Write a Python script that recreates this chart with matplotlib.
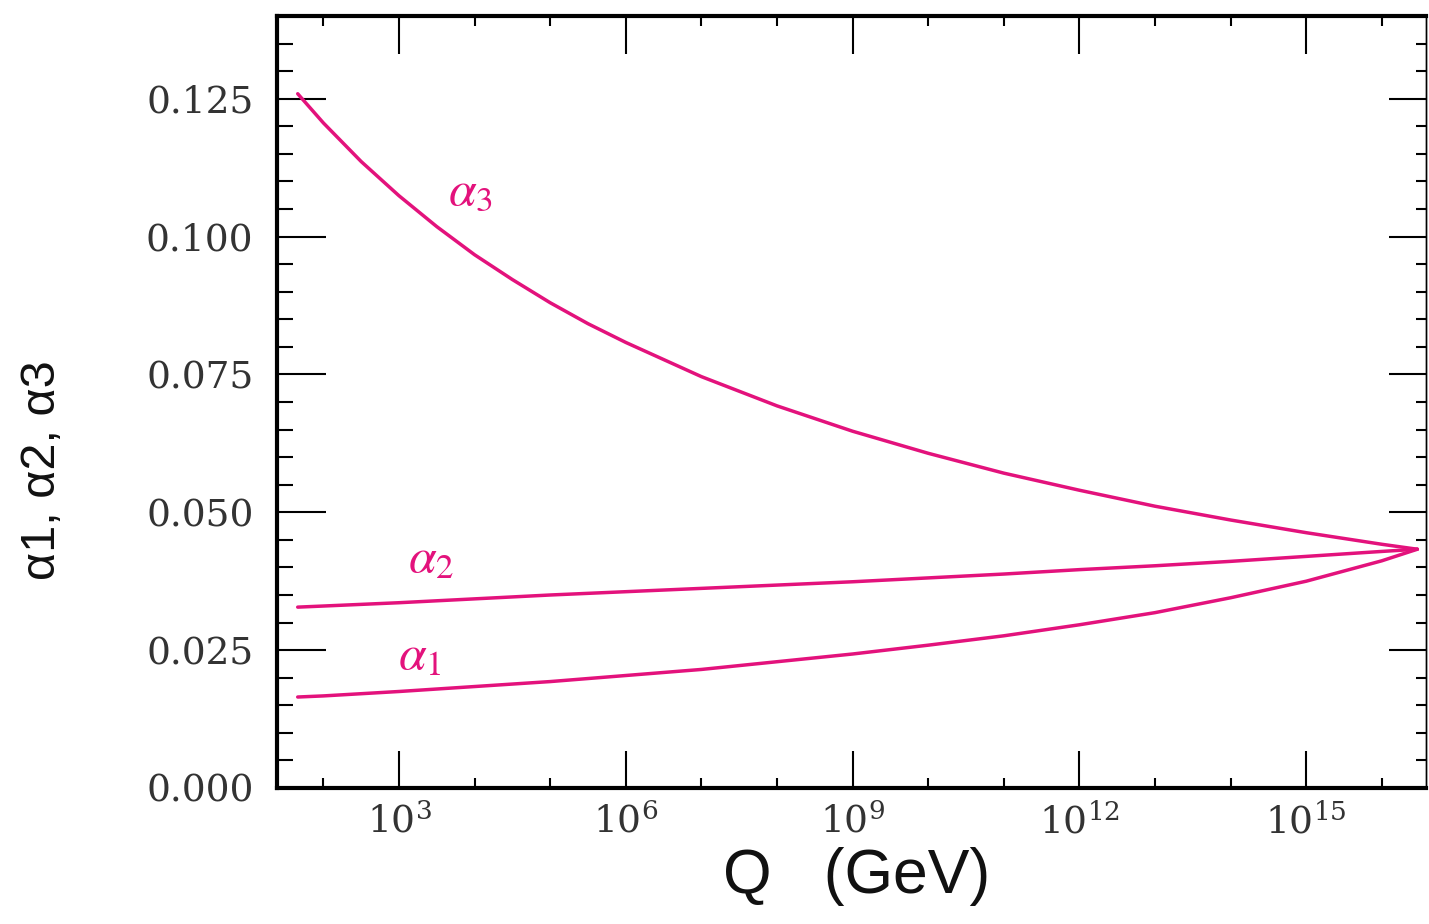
import matplotlib
matplotlib.use("Agg")
import matplotlib.pyplot as plt
from matplotlib.ticker import FixedLocator, FuncFormatter, MultipleLocator
import numpy as np

plt.rcParams["mathtext.fontset"] = "dejavuserif"

# ---- data ----
log10_q = [1.66, 2, 3, 4, 5, 6, 7, 8, 9, 10, 11, 12, 13, 14, 15, 16, 16.47]
alpha1 = [0.0165, 0.0167, 0.0175, 0.0184, 0.0193, 0.0204, 0.0215, 0.0229, 0.0243,
          0.0259, 0.0276, 0.0296, 0.0318, 0.0345, 0.0375, 0.0412, 0.0433]
alpha2 = [0.0328, 0.0330, 0.0336, 0.0343, 0.0350, 0.0356, 0.0362, 0.0368, 0.0374,
          0.0381, 0.0388, 0.0396, 0.0403, 0.0411, 0.0420, 0.0429, 0.0433]
log10_q3 = [1.66, 2, 2.5, 3, 3.5, 4, 4.5, 5, 5.5, 6, 7, 8, 9, 10, 11, 12, 13, 14, 15, 16, 16.47]
alpha3 = [0.1259, 0.1206, 0.1136, 0.1074, 0.1018, 0.0967, 0.0922, 0.0880, 0.0842, 0.0808,
          0.0746, 0.0693, 0.0647, 0.0607, 0.0571, 0.0540, 0.0511, 0.0486, 0.0463, 0.0442, 0.0433]
major_exponents = [3, 6, 9, 12, 15]
minor_exponents = [2, 4, 5, 7, 8, 10, 11, 13, 14, 16]
y_major = [0.000, 0.025, 0.050, 0.075, 0.100, 0.125]

color = "#e3127c"

fig = plt.figure(figsize=(14.29, 9.24), dpi=100)
ax = fig.add_axes([277 / 1429, (924 - 788) / 924, (1426 - 277) / 1429, (788 - 16) / 924])

ax.plot(10.0 ** np.array(log10_q), alpha1, color=color, lw=2.5, solid_capstyle="round")
ax.plot(10.0 ** np.array(log10_q), alpha2, color=color, lw=2.5, solid_capstyle="round")
ax.plot(10.0 ** np.array(log10_q3), alpha3, color=color, lw=2.5, solid_capstyle="round")

ax.set_xscale("log")
ax.set_xlim(10 ** 1.386, 10 ** 16.585)
ax.set_ylim(0.0, 0.14)

# x ticks
ax.xaxis.set_major_locator(FixedLocator([10.0 ** e for e in major_exponents]))
ax.xaxis.set_minor_locator(FixedLocator([10.0 ** e for e in minor_exponents]))
ax.xaxis.set_major_formatter(
    FuncFormatter(lambda v, p: r"$\mathregular{10}^{\mathregular{%d}}$" % round(np.log10(v))))
ax.xaxis.set_minor_formatter(FuncFormatter(lambda v, p: ""))

# y ticks
ax.yaxis.set_major_locator(FixedLocator(y_major))
ax.yaxis.set_minor_locator(MultipleLocator(0.005))
ax.yaxis.set_major_formatter(FuncFormatter(lambda v, p: "%.3f" % v))

ax.tick_params(axis="x", which="major", direction="in", length=27, width=1.5,
               top=True, pad=11, labelsize=27)
ax.tick_params(axis="x", which="minor", direction="in", length=7, width=1.5, top=True)
ax.tick_params(axis="y", which="major", direction="in", length=35, width=1.5,
               right=False, pad=17, labelsize=27)
ax.tick_params(axis="y", which="minor", direction="in", length=11.5, width=1.5, right=False)

for lab in ax.get_xticklabels() + ax.get_yticklabels():
    lab.set_fontfamily("DejaVu Serif")
    lab.set_color("#333333")

# right axis with shorter ticks
sec = ax.secondary_yaxis("right")
sec.yaxis.set_major_locator(FixedLocator(y_major))
sec.yaxis.set_minor_locator(MultipleLocator(0.005))
sec.tick_params(axis="y", which="major", direction="in", length=27, width=1.5, labelright=False)
sec.tick_params(axis="y", which="minor", direction="in", length=7, width=1.5)
sec.spines["right"].set_linewidth(1.0)

for s in ("left", "bottom", "top"):
    ax.spines[s].set_linewidth(3)
ax.spines["right"].set_linewidth(1.0)

# curve labels
ax.text(10 ** 3.95, 0.1083, r"$\alpha_3$", color=color, fontsize=36, ha="center", va="center",
        math_fontfamily="stix")
ax.text(10 ** 3.42, 0.0416, r"$\alpha_2$", color=color, fontsize=36, ha="center", va="center",
        math_fontfamily="stix")
ax.text(10 ** 3.27, 0.0240, r"$\alpha_1$", color=color, fontsize=36, ha="center", va="center",
        math_fontfamily="stix")

fig.text(43 / 1429, 1 - 470 / 924, "α1, α2, α3", rotation=90, fontsize=35,
         family="Liberation Sans", ha="center", va="center", color="#111111")
fig.text(857 / 1429, 1 - 876 / 924, "Q   (GeV)", fontsize=45,
         family="Liberation Sans", ha="center", va="center", color="#111111")

fig.savefig("out.png", dpi=100, facecolor="white")
